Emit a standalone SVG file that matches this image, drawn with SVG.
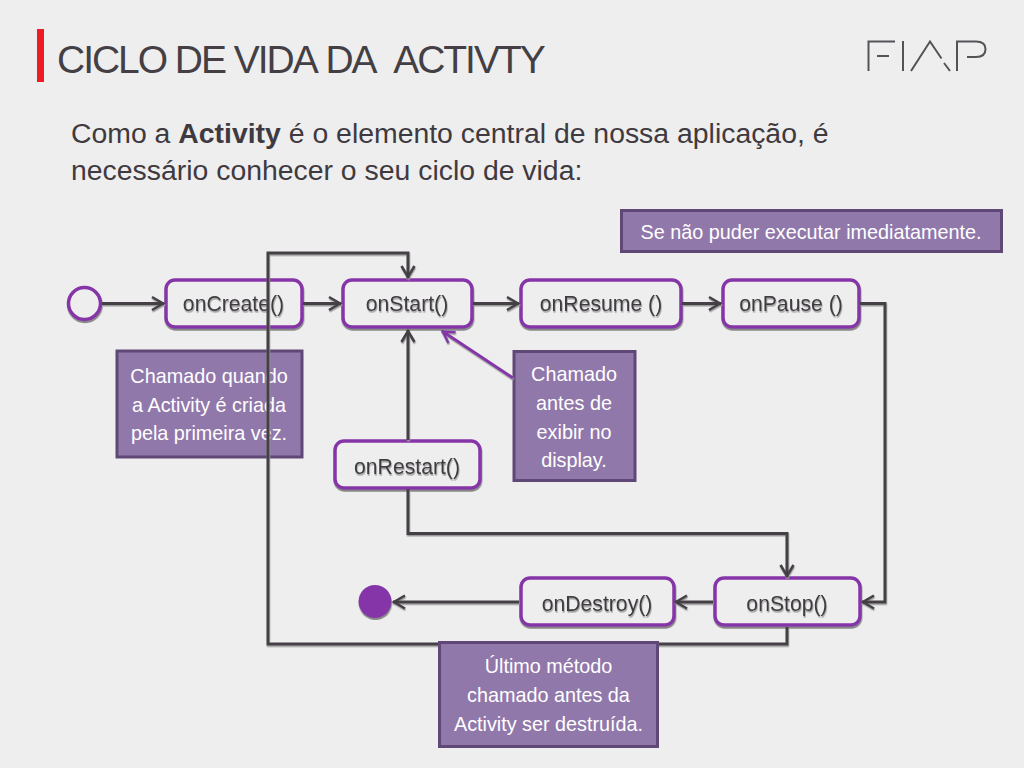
<svg xmlns="http://www.w3.org/2000/svg" width="1024" height="768" viewBox="0 0 1024 768">
<style>
text{font-family:"Liberation Sans",Arial,sans-serif}
.node rect{fill:#eeeeee;stroke:#8636a8;stroke-width:3.5;filter:url(#ds)}
.node text{font-size:21.2px;fill:#3f3a40;text-anchor:middle;filter:url(#ts)}
.note rect{fill:#9178ab;stroke:#5f4876;stroke-width:3}
.note text{font-size:19.8px;fill:#fff;text-anchor:middle}
.conn path{fill:none;stroke:#443f45;stroke-width:3;marker-end:url(#arr)}
.logo path{fill:none;stroke:#555257;stroke-width:2}
.body{font-size:28.4px;fill:#3f3a40}
</style>
<defs>
<filter id="ds" x="-10%" y="-20%" width="120%" height="150%"><feDropShadow dx="0.5" dy="2" stdDeviation="0.5" flood-color="#888"/></filter>
<filter id="ts" x="-10%" y="-20%" width="120%" height="150%"><feDropShadow dx="0.6" dy="1.6" stdDeviation="0.5" flood-color="#999"/></filter>
<filter id="ls" filterUnits="userSpaceOnUse" x="0" y="200" width="1024" height="568"><feDropShadow dx="0.5" dy="1.5" stdDeviation="0.4" flood-color="#999"/></filter>
<marker id="arr" markerUnits="userSpaceOnUse" markerWidth="20" markerHeight="20" refX="16" refY="10" orient="auto" overflow="visible"><path d="M4,3.500 L15,10 L4,16.500" fill="none" stroke="#443f45" stroke-width="2.600"/></marker>
<marker id="arrp" markerUnits="userSpaceOnUse" markerWidth="20" markerHeight="20" refX="16" refY="10" orient="auto" overflow="visible"><path d="M4,3.500 L15,10 L4,16.500" fill="none" stroke="#8636a8" stroke-width="2.600"/></marker>
</defs>
<rect width="1024" height="768" fill="#eeeeee"/>
<rect x="37" y="29" width="7" height="53" fill="#ed1c24"/>
<text x="57" y="73" font-size="39" letter-spacing="-2.03" fill="#443f45" style="font-kerning:none;white-space:pre" xml:space="preserve">CICLO DE VIDA DA  ACTIVTY</text>
<g class="logo" id="logo">
<path d="M868.500,71V41.500H895M877,56H889M903,41V71M911,71L930,41.500L941.500,58.500M944,63L950,71M957,71V41.500H976Q985.500,41.500 985.500,49Q985.500,57 976,57H967"/>
</g>
<text class="body" x="71" y="143">Como a <tspan font-weight="bold">Activity</tspan> é o elemento central de nossa aplicação, é</text>
<text class="body" x="71" y="180">necessário conhecer o seu ciclo de vida:</text>

<g id="start"><circle cx="84.500" cy="303.500" r="16" fill="#eeeeee" stroke="#8636a8" stroke-width="3.500" filter="url(#ds)"/></g>
<g id="end"><circle cx="375" cy="601.500" r="16.500" fill="#8636a8" filter="url(#ds)"/></g>
<g class="node" id="onCreate"><rect x="166" y="280" width="136" height="47" rx="9"/><text x="233.500" y="311">onCreate()</text></g>
<g class="node" id="onStart"><rect x="343" y="280" width="129" height="47" rx="9"/><text x="407" y="311">onStart()</text></g>
<g class="node" id="onResume"><rect x="521" y="280" width="160" height="47" rx="9"/><text x="601" y="311">onResume ()</text></g>
<g class="node" id="onPause"><rect x="723" y="280" width="136" height="47" rx="9"/><text x="791" y="311">onPause ()</text></g>
<g class="node" id="onRestart"><rect x="335" y="441" width="145" height="47" rx="9"/><text x="407" y="474">onRestart()</text></g>
<g class="node" id="onDestroy"><rect x="521" y="578" width="153" height="47" rx="9"/><text x="597" y="611">onDestroy()</text></g>
<g class="node" id="onStop"><rect x="715" y="578" width="145" height="47" rx="9"/><text x="787" y="611">onStop()</text></g>
<g class="note" id="note1"><rect x="117" y="351" width="185" height="106"/><text x="209" y="383">Chamado quando</text><text x="209" y="412">a Activity é criada</text><text x="209" y="440">pela primeira vez.</text></g>
<g class="note" id="note4"><rect x="621.500" y="210.500" width="380" height="41"/><text x="811" y="239">Se não puder executar imediatamente.</text></g>
<g class="note" id="note2"><rect x="514" y="351.500" width="121" height="129"/><text x="574" y="381">Chamado</text><text x="574" y="409.500">antes de</text><text x="574" y="438.500">exibir no</text><text x="574" y="467">display.</text></g>

<g class="conn" id="connectors" filter="url(#ls)">
<path d="M102,303.500H164"/>
<path d="M303,303.500H341"/>
<path d="M473,303.500H519"/>
<path d="M682,303.500H721"/>
<path d="M860,303.500H885V602H862"/>
<path d="M713,602H675"/>
<path d="M519,602H393"/>
<path d="M408,440V330"/>
<path d="M408,489V533.500H787V577"/>
<path d="M787,627V644H268V253H408V278"/>
<path d="M513,378L442,331" style="stroke:#8636a8;marker-end:url(#arrp)"/>
</g>
<g class="note" id="note3"><rect x="439.500" y="642.500" width="218" height="104"/><text x="548.500" y="673">Último método</text><text x="548.500" y="702">chamado antes da</text><text x="548.500" y="731">Activity ser destruída.</text></g>
</svg>
